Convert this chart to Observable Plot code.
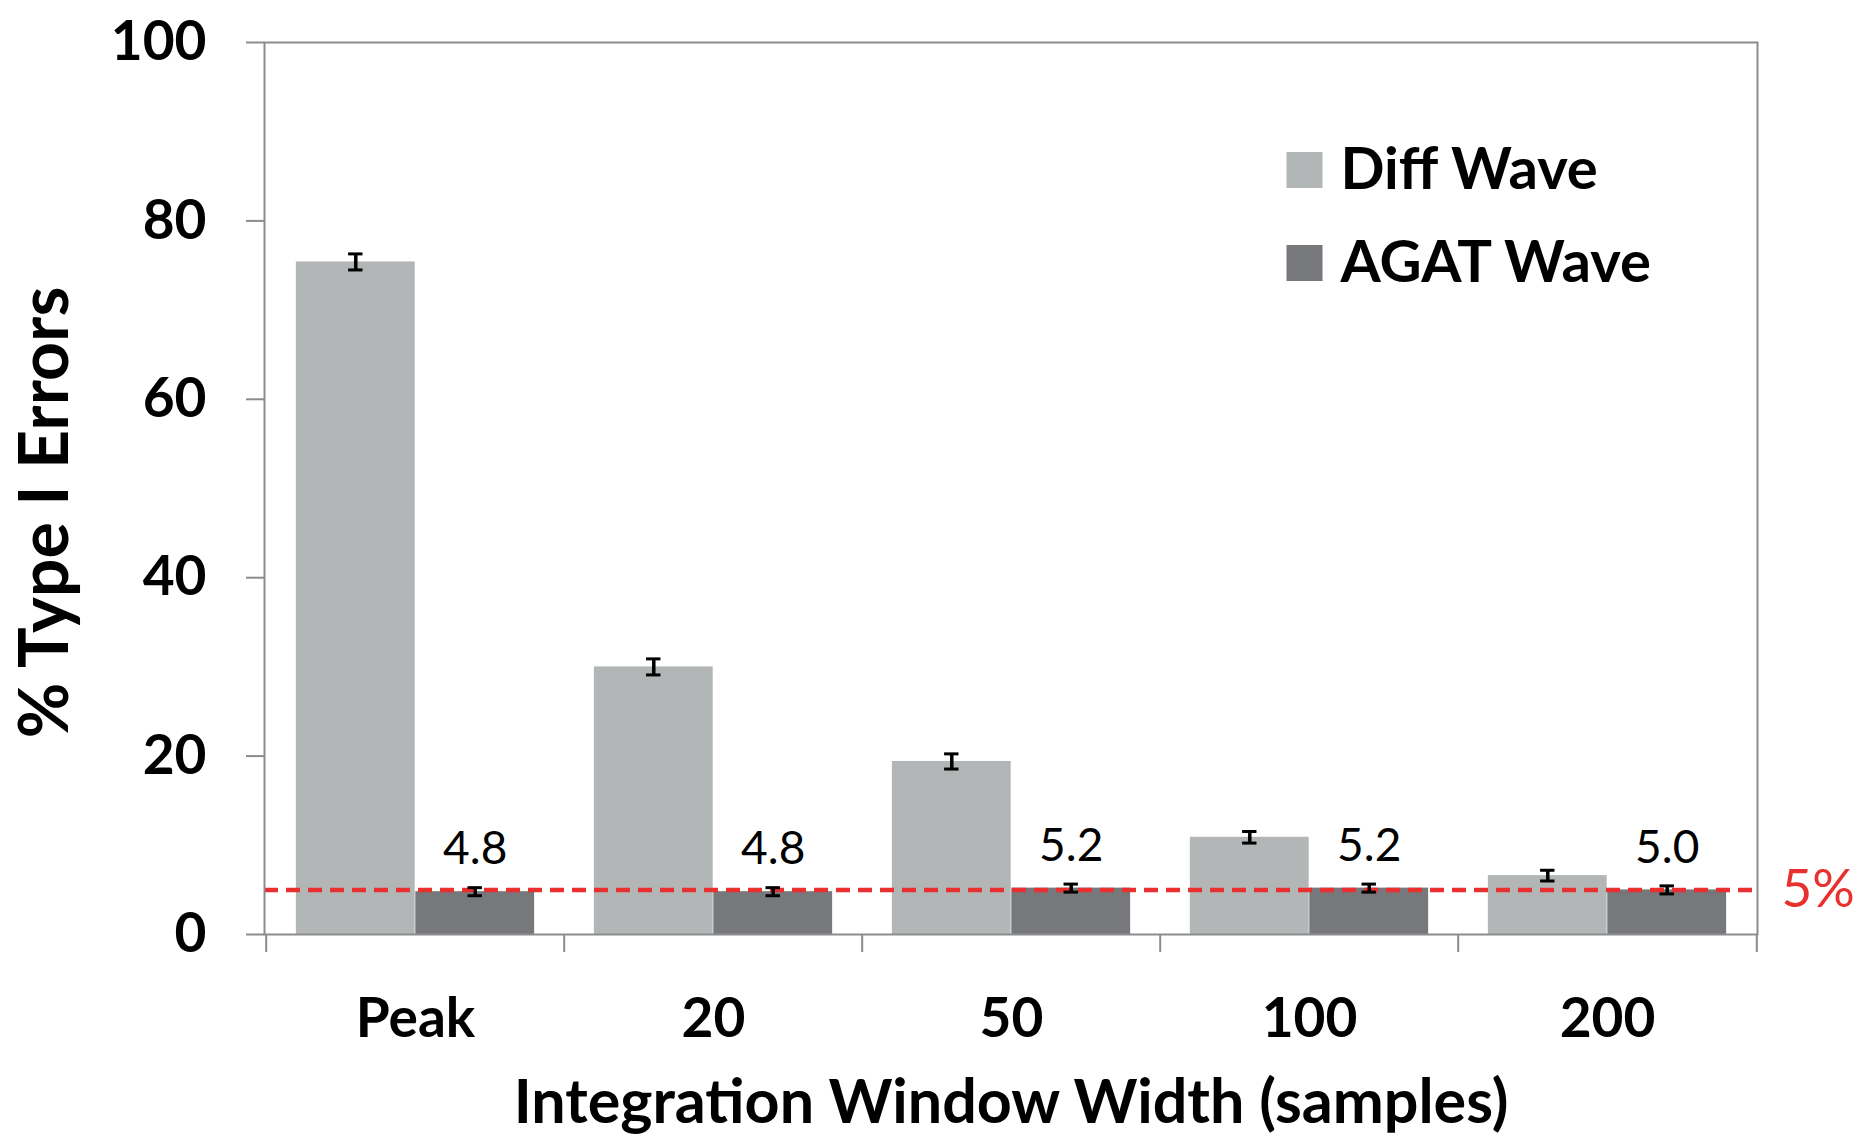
<!DOCTYPE html>
<html>
<head>
<meta charset="utf-8">
<script src="https://cdn.jsdelivr.net/npm/d3@7"></script>
<script src="https://cdn.jsdelivr.net/npm/@observablehq/plot@0.6"></script>
<style>
  html, body { margin: 0; padding: 0; background: #fff; }
  #chart svg { font-family: Lato, "Open Sans", sans-serif; }
</style>
</head>
<body>
<div id="chart"></div>
<script>
// ---- data ----
const categories = ["Peak", "20", "50", "100", "200"];
const series = ["Diff Wave", "AGAT Wave"];
const diffValues = [75.4, 30.0, 19.4, 10.9, 6.6];
const diffErrors = [0.9, 0.9, 0.85, 0.65, 0.6];
const agatValues = [4.8, 4.8, 5.2, 5.2, 5.0];
const agatErrors = [0.45, 0.45, 0.45, 0.45, 0.45];
const yTicks = [0, 20, 40, 60, 80, 100];
const threshold = 5;
const thresholdLabel = "5%";
const xTitle = "Integration Window Width (samples)";
const yTitle = "% Type I Errors";

// ---- styling ----
const colors = ["#b3b6b7", "#76787b"];
const red = "#e8302e";
const axisGray = "#8c8c8c";
const W = 1866, H = 1140;
const mL = 264, mR = 109, mT = 42, mB = 206;
const step = (W - mL - mR) / categories.length;
const off = 0.2 * step;
const capHalf = 7.5;
const plotH = H - mT - mB;
const fmt = d3.format(".1f");

const rows = categories.map((c, i) => ({
  cat: c, diff: diffValues[i], diffErr: diffErrors[i],
  agat: agatValues[i], agatErr: agatErrors[i]
}));

const legendMarks = series.flatMap((s, i) => [
  Plot.dot([s], {frameAnchor: "top-left", dx: 1040, dy: 127.5 + i * 93,
    symbol: "square", r: 36 / Math.sqrt(Math.PI), fill: colors[i], stroke: null}),
  Plot.text([s], {text: d => d, frameAnchor: "top-left", dx: 1076, dy: 127.5 + i * 93,
    textAnchor: "start", lineAnchor: "middle", fontSize: 58, fontWeight: "bold", fill: "black"})
]);

const chart = Plot.plot({
  width: W, height: H,
  marginLeft: mL, marginRight: mR, marginTop: mT, marginBottom: mB,
  style: {fontFamily: "Lato, 'Open Sans', sans-serif", background: "white", color: "black", overflow: "visible"},
  x: {type: "band", domain: categories, padding: 0, label: null},
  y: {domain: [0, 100], label: null},
  marks: [
    Plot.barY(rows, {x: "cat", y: "diff", fill: colors[0], insetLeft: 0.1 * step, insetRight: 0.5 * step}),
    Plot.barY(rows, {x: "cat", y: "agat", fill: colors[1], insetLeft: 0.5 * step, insetRight: 0.1 * step}),
    Plot.ruleY([threshold], {stroke: red, strokeWidth: 4.5, strokeDasharray: "14,8"}),
    // error bars
    Plot.ruleX(rows, {x: "cat", y1: d => d.diff - d.diffErr, y2: d => d.diff + d.diffErr, dx: -off, stroke: "black", strokeWidth: 3.5}),
    Plot.tickY(rows, {x: "cat", y: d => d.diff - d.diffErr, dx: -off, insetLeft: step / 2 - capHalf, insetRight: step / 2 - capHalf, stroke: "black", strokeWidth: 3}),
    Plot.tickY(rows, {x: "cat", y: d => d.diff + d.diffErr, dx: -off, insetLeft: step / 2 - capHalf, insetRight: step / 2 - capHalf, stroke: "black", strokeWidth: 3}),
    Plot.ruleX(rows, {x: "cat", y1: d => d.agat - d.agatErr, y2: d => d.agat + d.agatErr, dx: off, stroke: "black", strokeWidth: 3.5}),
    Plot.tickY(rows, {x: "cat", y: d => d.agat - d.agatErr, dx: off, insetLeft: step / 2 - capHalf, insetRight: step / 2 - capHalf, stroke: "black", strokeWidth: 3}),
    Plot.tickY(rows, {x: "cat", y: d => d.agat + d.agatErr, dx: off, insetLeft: step / 2 - capHalf, insetRight: step / 2 - capHalf, stroke: "black", strokeWidth: 3}),
    // value labels
    Plot.text(rows, {x: "cat", y: "agat", text: d => fmt(d.agat), dx: off, dy: -42, fontSize: 46, fill: "black", lineAnchor: "middle"}),
    // threshold label
    Plot.text([threshold], {y: d => d, text: () => thresholdLabel, frameAnchor: "right", dx: 24, textAnchor: "start", fill: red, fontSize: 53}),
    // frame & axes
    Plot.frame({stroke: axisGray, strokeWidth: 2}),
    Plot.axisY({ticks: yTicks, tickSize: 18, tickPadding: 40, stroke: axisGray, strokeWidth: 2, fill: "black", fontSize: 55, fontWeight: "bold", label: null}),
    Plot.axisX({tickSize: 0, tickPadding: 63, fontSize: 55, fontWeight: "bold", fill: "black", label: null}),
    Plot.ruleX(categories, {x: d => d, dx: -step / 2, insetTop: plotH, insetBottom: -18, stroke: axisGray, strokeWidth: 2}),
    Plot.ruleX([categories[categories.length - 1]], {x: d => d, dx: step / 2, insetTop: plotH, insetBottom: -18, stroke: axisGray, strokeWidth: 2}),
    // titles
    Plot.text([yTitle], {text: d => d, frameAnchor: "left", dx: 46 - mL, dy: 512 - (mT + plotH / 2), rotate: -90, textAnchor: "middle", fontSize: 68, fontWeight: "bold", fill: "black", lineAnchor: "middle"}),
    Plot.text([xTitle], {text: d => d, frameAnchor: "bottom", dy: 169, textAnchor: "middle", fontSize: 61, fontWeight: "bold", fill: "black", lineAnchor: "middle"}),
    ...legendMarks
  ]
});
document.getElementById("chart").appendChild(chart);
</script>
</body>
</html>
